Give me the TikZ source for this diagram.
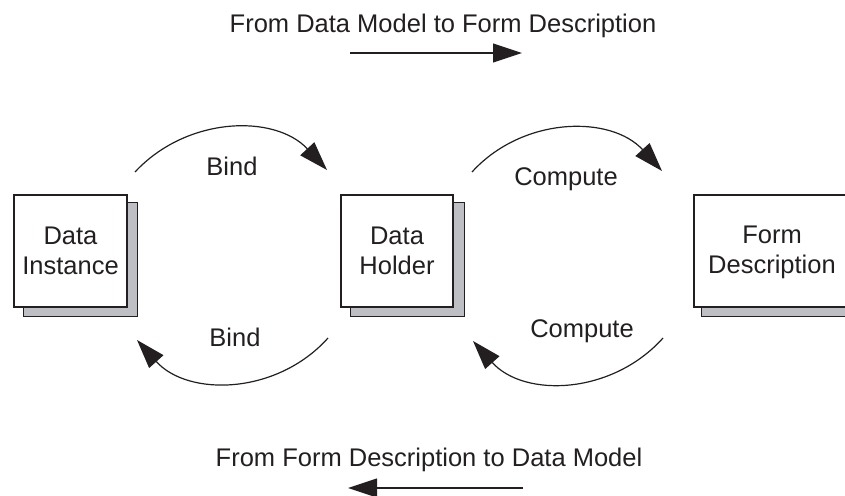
\documentclass[tikz,border=0pt]{standalone}
\usepackage{fontspec}
\setmainfont{Liberation Sans}
\usetikzlibrary{arrows.meta,backgrounds,calc}

\definecolor{inkcol}{RGB}{35,31,32}
\definecolor{shadecol}{RGB}{190,191,196}

\tikzset{
  card/.style={draw=inkcol, line width=1.2pt, fill=white, align=center,
    inner sep=0pt, minimum height=112pt, font=\fontsize{25.5}{30}\selectfont,
    text=inkcol},
  cardshade/.style={draw=inkcol, line width=1.2pt, fill=shadecol},
  lbl/.style={anchor=base, font=\fontsize{25.5}{30}\selectfont, text=inkcol,
    inner sep=0pt},
  flow/.style={draw=inkcol, line width=1.2pt,
    -{Triangle[length=29pt,width=19pt]}},
}

\begin{document}
\begin{tikzpicture}[x=1pt,y=-1pt]
  \useasboundingbox (0,0) rectangle (845,495);
  \clip (0,0) rectangle (845,495);

  % the three cards
  \node[card, minimum width=113pt] (inst) at (70.5,251) {Data\\Instance};
  \node[card, minimum width=112pt] (hold) at (397,251) {Data\\Holder};
  \node[card, minimum width=156pt] (form) at (772,251) {};
  % base of a multi-line node is the baseline of its last line
  \node[lbl, align=center] (formtxt) at (772,273) {Form\\Description};

  % stacked sheet behind each card
  \begin{scope}[on background layer]
    \draw[cardshade] ($(inst.north west)+(10,8)$) rectangle ($(inst.south east)+(9.5,8.5)$);
    \draw[cardshade] ($(hold.north west)+(10,8)$) rectangle ($(hold.south east)+(10.5,8.5)$);
    \draw[cardshade] ($(form.north west)+(8,8)$) rectangle ($(form.south east)+(10,8.5)$);
  \end{scope}

  % headings
  \node[lbl] (toptitle) at (443,33) {From Data Model to Form Description};
  \node[lbl] (bottitle) at (429,466) {From Form Description to Data Model};

  % direction arrows under the headings
  \coordinate (ta) at (350,53);
  \coordinate (tb) at (522,53);
  \coordinate (ba) at (523,488);
  \coordinate (bb) at (348,488);
  \draw[flow] (ta) -- (tb);
  \draw[flow] (ba) -- (bb);

  % arc end points
  \coordinate (b1s) at (135,172);
  \coordinate (b1e) at (327,170);
  \coordinate (c1s) at (472,172);
  \coordinate (c1e) at (662,171);
  \coordinate (b2s) at (328,338);
  \coordinate (b2e) at (137,340);
  \coordinate (c2s) at (663,338);
  \coordinate (c2e) at (473,341);

  % forward arcs
  \draw[flow] (b1s) .. controls (187,116) and (275,114) .. (b1e);
  \draw[flow] (c1s) .. controls (523,116) and (611,115) .. (c1e);
  % backward arcs
  \draw[flow] (b2s) .. controls (277,395) and (188,397) .. (b2e);
  \draw[flow] (c2s) .. controls (612,395) and (524,398) .. (c2e);

  % arc labels
  \node[lbl] (bindtop) at (232,175) {Bind};
  \node[lbl] (comptop) at (566,185) {Compute};
  \node[lbl] (bindbot) at (235,346) {Bind};
  \node[lbl] (compbot) at (582,337) {Compute};
\end{tikzpicture}
\end{document}
